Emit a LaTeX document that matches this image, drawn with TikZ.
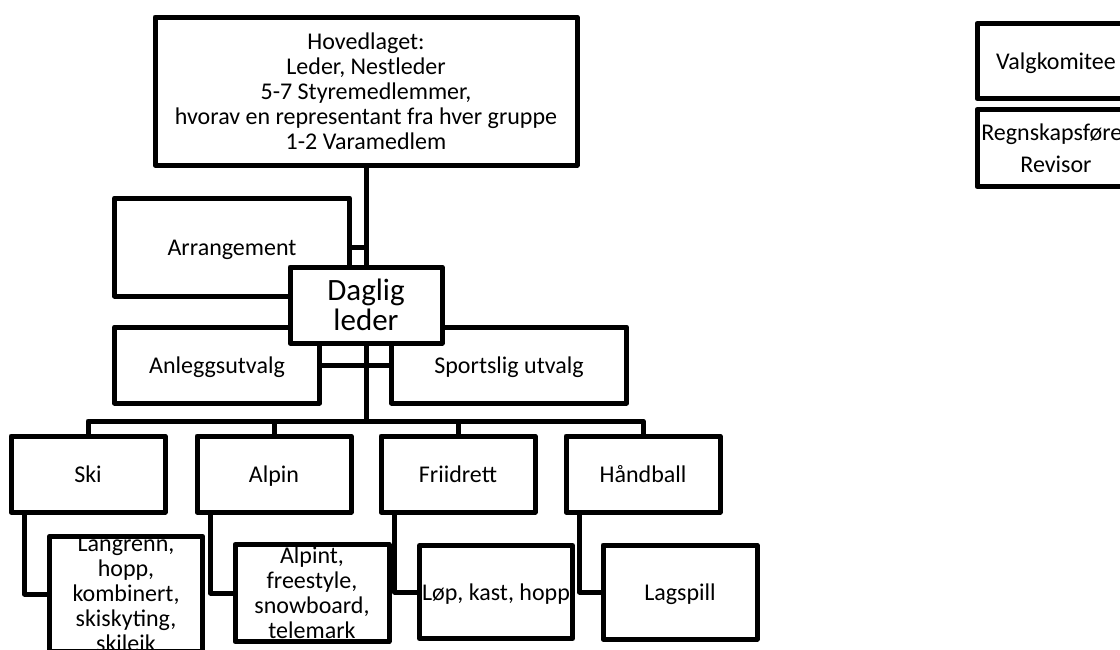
\documentclass[tikz,border=0pt]{standalone}
\usepackage{fontspec}
\setmainfont{Carlito}
\newcommand{\Hoved}{Hovedlaget:\\ Leder, Nestleder\\ 5-7 Styremedlemmer,\\ hvorav en representant fra hver gruppe\\ 1-2 Varamedlem}
\newcommand{\Langrenn}{Langrenn,\\ hopp,\\ kombinert,\\ skiskyting,\\ skileik}
\newcommand{\Alpint}{Alpint,\\ freestyle,\\ snowboard,\\ telemark}
\newcommand{\Regn}{Regnskapsfører\\[7pt] Revisor}

\begin{document}
\begin{tikzpicture}[x=1pt, y=-1pt, line width=5pt, line join=round,
    box/.style={draw, fill=white, rectangle, inner sep=0pt, align=center,
        font=\fontsize{24}{25}\selectfont},
    one/.style={box, text height=17pt, text depth=0pt},
    group/.style={one, minimum width=154pt, minimum height=76pt}]
    \useasboundingbox (0,0) rectangle (1120,649);
    \node[box, minimum width=422pt, minimum height=148pt] (h) at (366, 91) {\Hoved};
    \node[one, minimum width=235pt, minimum height=98pt] (arr) at (232, 247) {Arrangement};
    \node[one, minimum width=205pt, minimum height=76pt] (anl) at (217, 365) {Anleggsutvalg};
    \node[one, minimum width=235pt, minimum height=76pt] (sp) at (509, 365) {Sportslig utvalg};
    \node[box, minimum width=152pt, minimum height=76pt,
        font=\fontsize{31}{30}\selectfont] (dl) at (366, 305) {Daglig\\ leder};
    \node[group] (s) at (88, 474) {Ski};
    \node[group] (al) at (274, 474) {Alpin};
    \node[group] (fr) at (458, 474) {Friidrett};
    \node[group] (hb) at (643, 474) {Håndball};
    \node[box, minimum width=153pt, minimum height=98pt] (s2) at (126, 594) {\Langrenn};
    \node[box, minimum width=154pt, minimum height=97pt] (al2) at (312, 593) {\Alpint};
    \node[one, minimum width=153pt, minimum height=93pt] (fr2) at (496, 592) {Løp, kast, hopp};
    \node[one, minimum width=154pt, minimum height=94pt] (hb2) at (680, 592) {Lagspill};
    \node[one, minimum width=158pt, minimum height=75pt] (vk) at (1056, 61) {Valgkomitee};
    \node[box, minimum width=158pt, minimum height=77pt] (rv) at (1056, 148) {\Regn};
    \coordinate (bus) at (366, 421);
    \draw (h) -- (dl);
    \draw (dl) -- (bus);
    \draw (arr.east) -- (arr.east -| h.south);
    \draw (anl) -- (sp);
    \draw (s.north) |- (bus) -| (hb.north);
    \draw (al.north) -- (al.north |- bus);
    \draw (fr.north) -- (fr.north |- bus);
    \draw ([xshift=16pt]s.south west) |- (s2.west);
    \draw ([xshift=16pt]al.south west) |- (al2.west);
    \draw ([xshift=16pt]fr.south west) |- (fr2.west);
    \draw ([xshift=16pt]hb.south west) |- (hb2.west);
\end{tikzpicture}
\end{document}
